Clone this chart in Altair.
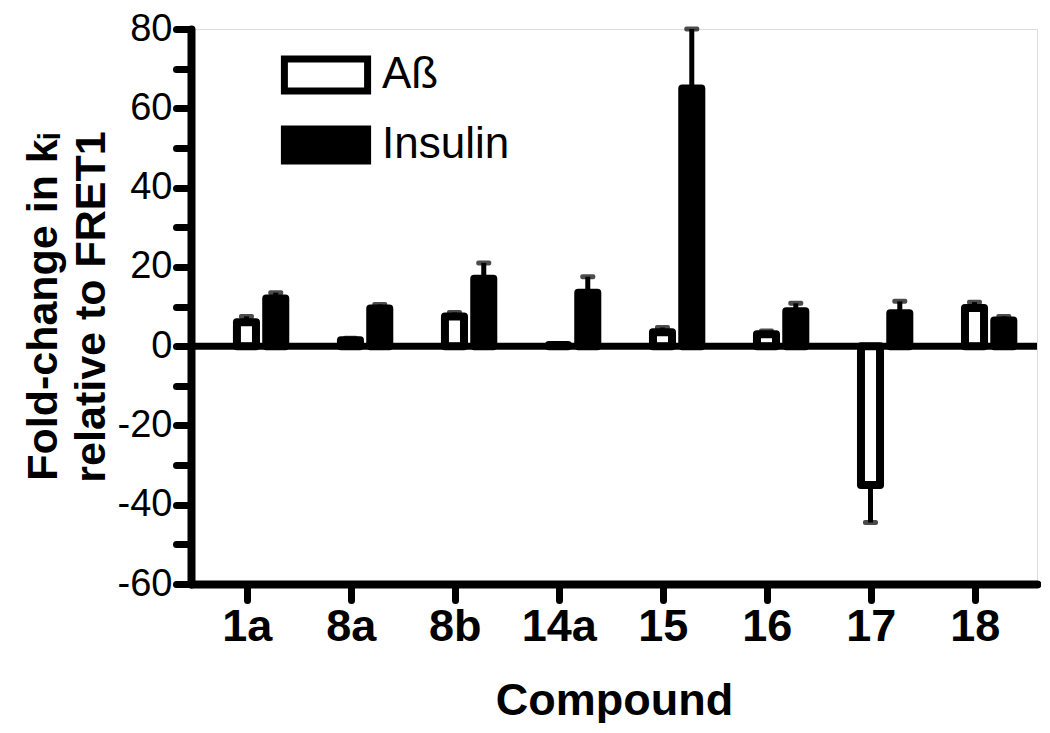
import altair as alt
import pandas as pd

compounds = ["1a", "8a", "8b", "14a", "15", "16", "17", "18"]
series = ["Aß", "Insulin"]
abeta_vals = [6, 1.5, 7.5, 0.3, 3.5, 3, -35, 9.6]
abeta_err = [1.5, 0.5, 1, 0, 1.2, 0.8, 9.5, 1.5]
insulin_vals = [12, 9.5, 17, 13.5, 65, 8.8, 8.3, 6.5]
insulin_err = [1.5, 1, 4, 4, 15, 2, 3, 1]

rows = []
for c, v, e in zip(compounds, abeta_vals, abeta_err):
    rows.append({"compound": c, "series": series[0], "value": v, "err": e})
for c, v, e in zip(compounds, insulin_vals, insulin_err):
    rows.append({"compound": c, "series": series[1], "value": v, "err": e})
df = pd.DataFrame(rows)
df["end"] = df["value"] + df["err"] * df["value"].apply(lambda v: 1 if v >= 0 else -1)
df_err = df[df["err"] > 0]
zero_df = pd.DataFrame({"value": [0]})

FONT = "Liberation Sans"
YTITLE = ["Fold-change in kᵢ", "relative to FRET1"]

x_enc = alt.X(
    "compound:N",
    sort=compounds,
    scale=alt.Scale(paddingInner=0, paddingOuter=0.067, align=0.3),
    axis=alt.Axis(
        title="Compound", labelAngle=0, labelFont=FONT, labelFontSize=45,
        labelFontWeight="bold", labelColor="black", labelPadding=4,
        titleFont=FONT, titleFontSize=45, titleFontWeight="bold",
        titleColor="black", titlePadding=29,
        domainWidth=8, domainColor="black", domainCap="round",
        tickWidth=7, tickSize=16, tickColor="black", tickCap="round",
        grid=False,
    ),
)
xo_enc = alt.XOffset(
    "series:N", sort=series,
    scale=alt.Scale(paddingInner=0.35, paddingOuter=0.95, align=0.75),
)
y_scale = alt.Scale(domain=[-60, 80], nice=False, zero=False)
y_axis = alt.Axis(
    title=YTITLE, values=list(range(-60, 81, 10)),
    labelExpr="datum.value % 20 == 0 ? toString(datum.value) : ''",
    labelFont=FONT, labelFontSize=38, labelColor="black", labelPadding=4,
    titleFont=FONT, titleFontSize=43, titleFontWeight="bold", titleColor="black",
    titlePadding=4, titleLineHeight=48,
    domainWidth=8, domainColor="black", domainCap="round",
    tickWidth=7, tickSize=15, tickColor="black", tickCap="round",
    grid=False,
)

bars = alt.Chart(df).mark_bar(stroke="black", strokeWidth=8, strokeJoin="round").encode(
    x=x_enc,
    xOffset=xo_enc,
    y=alt.Y("value:Q", scale=y_scale, axis=y_axis),
    y2=alt.datum(0),
    fill=alt.Fill(
        "series:N",
        scale=alt.Scale(domain=series, range=["white", "black"]),
        legend=alt.Legend(
            title=None, orient="none", legendX=113, legendY=24,
            symbolType="M-2.6,-1H2.6V1H-2.6Z", symbolSize=1024,
            symbolStrokeWidth=7, symbolStrokeColor="black",
            labelFont=FONT, labelFontSize=44, labelColor="black",
            labelOffset=34, rowPadding=10, padding=0,
        ),
    ),
)

err_rules = alt.Chart(df_err).mark_rule(color="black", strokeWidth=5).encode(
    x=x_enc,
    xOffset=xo_enc,
    y=alt.Y("value:Q", scale=y_scale, axis=y_axis),
    y2="end:Q",
)

caps = alt.Chart(df_err).mark_tick(color="black", size=15, thickness=5, cornerRadius=2).encode(
    x=x_enc,
    xOffset=xo_enc,
    y=alt.Y("end:Q", scale=y_scale, axis=y_axis),
)

zero_line = alt.Chart(zero_df).mark_rule(color="black", strokeWidth=7).encode(
    y=alt.Y("value:Q", scale=y_scale, axis=y_axis),
)

chart = alt.layer(bars, err_rules, caps, zero_line).properties(
    width=846, height=555,
    padding={"left": 14, "top": 2, "right": 0, "bottom": 0},
).configure_view(stroke=None).configure(background="white")

chart.save("out.html", embed_options={"renderer": "svg", "actions": False})
